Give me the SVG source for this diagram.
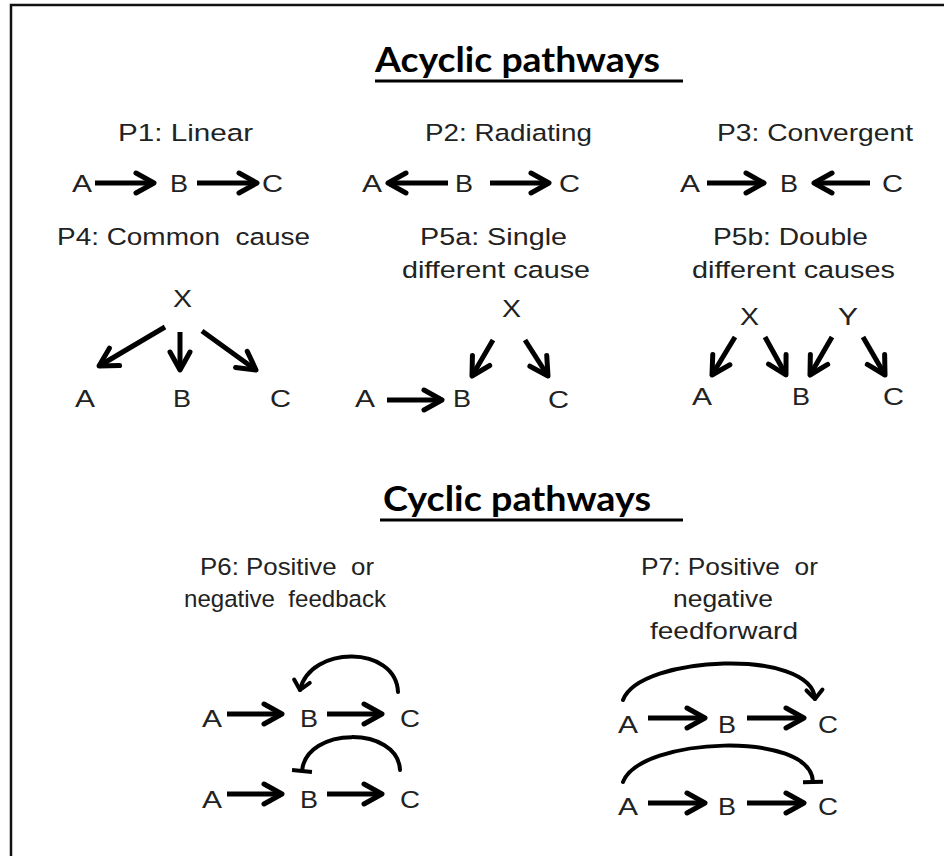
<svg xmlns="http://www.w3.org/2000/svg" width="944" height="856" viewBox="0 0 944 856">
  <defs>
    <style>
      .lbl { font-family: "Liberation Sans", Arial, sans-serif; font-size: 24.5px; fill: #222; }
      .ttl { font-family: Lato, "Liberation Sans", sans-serif; font-weight: bold; font-size: 34px; fill: #000; }
      .edge { fill: none; stroke: #000; stroke-width: 5; marker-end: url(#head); }
      .loop { fill: none; stroke: #000; stroke-width: 4; stroke-linecap: round; }
      .uline { stroke: #000; stroke-width: 3; }
    </style>
    <marker id="head" markerUnits="userSpaceOnUse" markerWidth="40" markerHeight="40" viewBox="-30 -20 40 40" refX="0" refY="0" orient="auto">
      <path d="M-18,-10 L0,0 L-18,10" fill="none" stroke="#000" stroke-width="5" stroke-linecap="round" stroke-linejoin="round"/>
    </marker>
    <marker id="headSmall" markerUnits="userSpaceOnUse" markerWidth="30" markerHeight="30" viewBox="-15 -15 30 30" refX="0" refY="0" orient="auto">
      <path d="M-9,-8 L0,0 L-9,8" fill="none" stroke="#000" stroke-width="4" stroke-linecap="round" stroke-linejoin="round"/>
    </marker>
    <marker id="tee" markerUnits="userSpaceOnUse" markerWidth="30" markerHeight="30" viewBox="-15 -15 30 30" refX="0" refY="0" orient="auto">
      <path d="M0,-10 L0,10" fill="none" stroke="#000" stroke-width="4"/>
    </marker>
  </defs>

  <rect width="944" height="856" fill="#fff"/>
  <!-- frame (top and left edges) -->
  <path d="M11,856 L11,5 L944,5" fill="none" stroke="#111" stroke-width="2.5"/>

  <!-- section headings -->
  <g id="heading-acyclic">
    <text class="ttl" x="375" y="72" textLength="285" lengthAdjust="spacingAndGlyphs">Acyclic pathways</text>
    <line class="uline" x1="375" y1="81" x2="683" y2="81"/>
  </g>
  <g id="heading-cyclic">
    <text class="ttl" x="383" y="511" textLength="268" lengthAdjust="spacingAndGlyphs">Cyclic pathways</text>
    <line class="uline" x1="380" y1="520" x2="683" y2="520"/>
  </g>

  <!-- pathway captions -->
  <g id="captions" class="lbl">
    <text x="118" y="141" textLength="135" lengthAdjust="spacingAndGlyphs">P1: Linear</text>
    <text x="425" y="141" textLength="167" lengthAdjust="spacingAndGlyphs">P2: Radiating</text>
    <text x="717" y="141" textLength="196" lengthAdjust="spacingAndGlyphs">P3: Convergent</text>
    <text x="57" y="245" textLength="253" lengthAdjust="spacingAndGlyphs">P4: Common&#160; cause</text>
    <text x="420" y="245" textLength="147" lengthAdjust="spacingAndGlyphs">P5a: Single</text>
    <text x="402" y="278" textLength="188" lengthAdjust="spacingAndGlyphs">different cause</text>
    <text x="713" y="245" textLength="155" lengthAdjust="spacingAndGlyphs">P5b: Double</text>
    <text x="692" y="278" textLength="203" lengthAdjust="spacingAndGlyphs">different causes</text>
    <text x="200" y="575" textLength="174" lengthAdjust="spacingAndGlyphs">P6: Positive&#160; or</text>
    <text x="184" y="607" textLength="202" lengthAdjust="spacingAndGlyphs">negative&#160; feedback</text>
    <text x="641" y="575" textLength="177" lengthAdjust="spacingAndGlyphs">P7: Positive&#160; or</text>
    <text x="673" y="607" textLength="100" lengthAdjust="spacingAndGlyphs">negative</text>
    <text x="650" y="639" textLength="148" lengthAdjust="spacingAndGlyphs">feedforward</text>
  </g>

  <!-- P1: linear -->
  <g id="p1-nodes" class="lbl">
    <text x="72" y="192" textLength="20" lengthAdjust="spacingAndGlyphs">A</text>
    <text x="170" y="192" textLength="18" lengthAdjust="spacingAndGlyphs">B</text>
    <text x="262" y="192" textLength="21" lengthAdjust="spacingAndGlyphs">C</text>
  </g>
  <!-- P2: radiating -->
  <g id="p2-nodes" class="lbl">
    <text x="362" y="192" textLength="20" lengthAdjust="spacingAndGlyphs">A</text>
    <text x="455" y="192" textLength="18" lengthAdjust="spacingAndGlyphs">B</text>
    <text x="559" y="192" textLength="21" lengthAdjust="spacingAndGlyphs">C</text>
  </g>
  <!-- P3: convergent -->
  <g id="p3-nodes" class="lbl">
    <text x="680" y="192" textLength="20" lengthAdjust="spacingAndGlyphs">A</text>
    <text x="780" y="192" textLength="18" lengthAdjust="spacingAndGlyphs">B</text>
    <text x="882" y="192" textLength="21" lengthAdjust="spacingAndGlyphs">C</text>
  </g>
  <!-- P4: common cause -->
  <g id="p4-nodes" class="lbl">
    <text x="173" y="307" textLength="19" lengthAdjust="spacingAndGlyphs">X</text>
    <text x="75" y="407" textLength="20" lengthAdjust="spacingAndGlyphs">A</text>
    <text x="173" y="407" textLength="18" lengthAdjust="spacingAndGlyphs">B</text>
    <text x="270" y="407" textLength="21" lengthAdjust="spacingAndGlyphs">C</text>
  </g>
  <!-- P5a: single different cause -->
  <g id="p5a-nodes" class="lbl">
    <text x="502" y="317" textLength="19" lengthAdjust="spacingAndGlyphs">X</text>
    <text x="355" y="407" textLength="20" lengthAdjust="spacingAndGlyphs">A</text>
    <text x="453" y="407" textLength="18" lengthAdjust="spacingAndGlyphs">B</text>
    <text x="548" y="408" textLength="21" lengthAdjust="spacingAndGlyphs">C</text>
  </g>
  <!-- P5b: double different causes -->
  <g id="p5b-nodes" class="lbl">
    <text x="740" y="325" textLength="19" lengthAdjust="spacingAndGlyphs">X</text>
    <text x="838" y="325" textLength="20" lengthAdjust="spacingAndGlyphs">Y</text>
    <text x="692" y="405" textLength="20" lengthAdjust="spacingAndGlyphs">A</text>
    <text x="792" y="405" textLength="18" lengthAdjust="spacingAndGlyphs">B</text>
    <text x="883" y="405" textLength="21" lengthAdjust="spacingAndGlyphs">C</text>
  </g>
  <!-- P6: feedback -->
  <g id="p6-nodes" class="lbl">
    <text x="202" y="727" textLength="20" lengthAdjust="spacingAndGlyphs">A</text>
    <text x="300" y="727" textLength="18" lengthAdjust="spacingAndGlyphs">B</text>
    <text x="400" y="727" textLength="20" lengthAdjust="spacingAndGlyphs">C</text>
    <text x="202" y="808" textLength="20" lengthAdjust="spacingAndGlyphs">A</text>
    <text x="300" y="808" textLength="18" lengthAdjust="spacingAndGlyphs">B</text>
    <text x="400" y="808" textLength="20" lengthAdjust="spacingAndGlyphs">C</text>
  </g>
  <!-- P7: feedforward -->
  <g id="p7-nodes" class="lbl">
    <text x="618" y="733" textLength="20" lengthAdjust="spacingAndGlyphs">A</text>
    <text x="718" y="733" textLength="18" lengthAdjust="spacingAndGlyphs">B</text>
    <text x="818" y="733" textLength="20" lengthAdjust="spacingAndGlyphs">C</text>
    <text x="618" y="815" textLength="20" lengthAdjust="spacingAndGlyphs">A</text>
    <text x="718" y="815" textLength="18" lengthAdjust="spacingAndGlyphs">B</text>
    <text x="818" y="815" textLength="20" lengthAdjust="spacingAndGlyphs">C</text>
  </g>

  <!-- connectors -->
  <g id="connectors">
    <!-- P1 -->
    <path class="edge" d="M95,183 L154,183"/>
    <path class="edge" d="M197,183 L257,183"/>
    <!-- P2 -->
    <path class="edge" d="M448,183 L388,183"/>
    <path class="edge" d="M490,183 L549,183"/>
    <!-- P3 -->
    <path class="edge" d="M707,183 L764,183"/>
    <path class="edge" d="M870,183 L814,183"/>
    <!-- P4 -->
    <path class="edge" d="M165,327 L99,366"/>
    <path class="edge" d="M180,332 L180,370"/>
    <path class="edge" d="M202,331 L256,370"/>
    <!-- P5a -->
    <path class="edge" d="M387,400 L442,400"/>
    <path class="edge" d="M493,340 L472,376"/>
    <path class="edge" d="M525,340 L548,376"/>
    <!-- P5b -->
    <path class="edge" d="M735,337 L712,375"/>
    <path class="edge" d="M765,337 L786,375"/>
    <path class="edge" d="M832,337 L810,375"/>
    <path class="edge" d="M863,337 L885,375"/>
    <!-- P6 -->
    <path class="edge" d="M227,714 L282,714"/>
    <path class="edge" d="M327,714 L382,714"/>
    <path class="loop" d="M398,692 C396,645 310,645 300,690" marker-end="url(#headSmall)"/>
    <path class="edge" d="M227,794 L282,794"/>
    <path class="edge" d="M327,794 L382,794"/>
    <path class="loop" d="M400,770 C398,726 306,726 302,771" marker-end="url(#tee)"/>
    <!-- P7 -->
    <path class="edge" d="M648,718 L705,718"/>
    <path class="edge" d="M747,718 L804,718"/>
    <path class="loop" d="M623,700 C640,655 812,648 815,699" marker-end="url(#headSmall)"/>
    <path class="edge" d="M648,803 L705,803"/>
    <path class="edge" d="M747,803 L804,803"/>
    <path class="loop" d="M623,782 C640,737 812,730 813,782" marker-end="url(#tee)"/>
  </g>
</svg>
